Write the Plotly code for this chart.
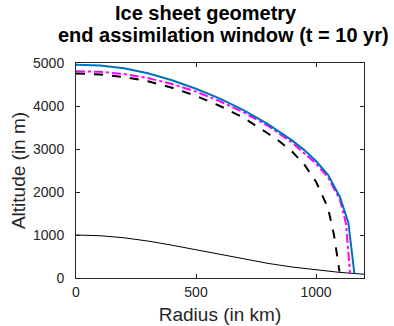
import plotly.graph_objects as go

# Radius (km) / altitude (m) samples
r_bed = [0, 100, 200, 300, 400, 500, 600, 700, 800, 900, 1000, 1100, 1200]
z_bed = [1000, 983, 935, 859, 763, 656, 545, 438, 340, 255, 185, 130, 88]

r_true = [0, 100, 200, 300, 400, 500, 600, 700, 800, 850, 900, 950, 1000, 1050, 1100, 1135, 1160]
z_true = [4960, 4940, 4880, 4760, 4600, 4400, 4170, 3900, 3580, 3400, 3200, 2980, 2720, 2400, 1880, 1280, 100]

r_assim = [0, 100, 200, 300, 400, 500, 600, 700, 800, 900, 1000, 1050, 1100, 1125, 1142]
z_assim = [4810, 4795, 4745, 4650, 4510, 4335, 4110, 3850, 3540, 3150, 2660, 2340, 1820, 1260, 105]

r_init = [0, 100, 200, 300, 400, 500, 600, 700, 800, 850, 900, 950, 1000, 1050, 1075, 1090, 1098]
z_init = [4755, 4735, 4675, 4575, 4425, 4235, 4000, 3720, 3360, 3170, 2940, 2650, 2240, 1630, 1000, 500, 150]

x_ticks = [0, 500, 1000]
y_ticks = [0, 1000, 2000, 3000, 4000, 5000]

fig = go.Figure()
fig.add_trace(go.Scatter(x=r_bed, y=z_bed, mode="lines", line=dict(color="black", width=1), showlegend=False))
fig.add_trace(go.Scatter(x=r_init, y=z_init, mode="lines", line=dict(color="black", width=2, dash="dash"), showlegend=False))
fig.add_trace(go.Scatter(x=r_assim, y=z_assim, mode="lines", line=dict(color="#FF00FF", width=2, dash="dashdot"), showlegend=False))
fig.add_trace(go.Scatter(x=r_true, y=z_true, mode="lines", line=dict(color="#0072BD", width=2), showlegend=False))

axis_common = dict(
    showgrid=False, zeroline=False, showline=True, linecolor="#262626", linewidth=1,
    mirror="allticks", ticks="inside", ticklen=4, tickcolor="#262626", tickwidth=1,
    tickfont=dict(family="Liberation Sans, Arial", size=14, color="#262626"),
    automargin=False,
)

fig.update_xaxes(range=[0, 1200], tickvals=x_ticks, ticktext=[str(v) for v in x_ticks],
                 ticklabelstandoff=1,
                 title=dict(text="Radius (in km)", font=dict(family="Liberation Sans, Arial", size=19, color="#262626"), standoff=8),
                 **axis_common)
fig.update_yaxes(range=[0, 5000], tickvals=y_ticks, ticktext=[str(v) for v in y_ticks],
                 ticklabelstandoff=8,
                 title=dict(text="Altitude (in m)", font=dict(family="Liberation Sans, Arial", size=19, color="#262626"), standoff=2),
                 **axis_common)

title_font = dict(family="Liberation Sans, Arial", size=20, color="black")
fig.add_annotation(text="<b>Ice sheet geometry</b>", xref="paper", yref="paper",
                   x=0.451, y=1.17, xanchor="center", yanchor="bottom", showarrow=False, font=title_font)
fig.add_annotation(text="<b>end assimilation window (t = 10 yr)</b>", xref="paper", yref="paper",
                   x=0.512, y=1.068, xanchor="center", yanchor="bottom", showarrow=False, font=title_font)

fig.update_layout(
    width=394, height=326,
    margin=dict(l=76, r=30, t=63, b=48),
    paper_bgcolor="white", plot_bgcolor="white",
)

fig.write_html("out.html")
